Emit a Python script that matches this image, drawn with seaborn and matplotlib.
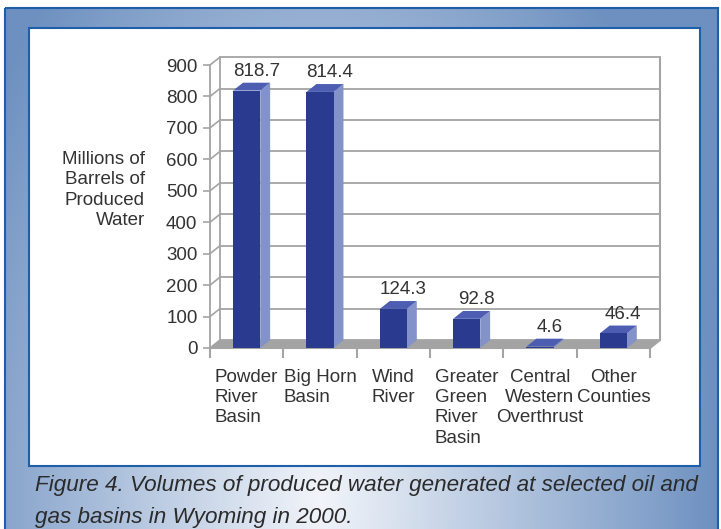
import numpy as np
import matplotlib
matplotlib.use("Agg")
import matplotlib.pyplot as plt
from matplotlib.patches import Polygon, Rectangle
import seaborn as sns

# data
basins = ["Powder\nRiver\nBasin", "Big Horn\nBasin", "Wind\nRiver",
          "Greater\nGreen\nRiver\nBasin", "Central\nWestern\nOverthrust",
          "Other\nCounties"]
volumes = [818.7, 814.4, 124.3, 92.8, 4.6, 46.4]
y_ticks = [0, 100, 200, 300, 400, 500, 600, 700, 800, 900]
y_label = "Millions of\nBarrels of\nProduced\nWater"
caption = ["Figure 4. Volumes of produced water generated at selected oil and",
           "gas basins in Wyoming in 2000."]
label_align = ["left", "left", "left", "left", "center", "center"]

FRONT = "#2a3b8f"
SIDE = "#8392c8"
TOP = "#4d5eb2"
GRID = "#a4a4a4"
TXT = "#333333"

sns.set_theme(style="white")
plt.rcParams["font.family"] = ["Liberation Sans", "DejaVu Sans"]

W, H = 721, 529
fig = plt.figure(figsize=(W / 100, H / 100), dpi=100)

# blue gradient frame + white panel
bg = fig.add_axes([0, 0, 1, 1], zorder=-2)
bg.set_xlim(0, W)
bg.set_ylim(H, 0)
bg.axis("off")
xx, yy = np.meshgrid(np.linspace(5, 718, 300), np.linspace(8, 529, 200))
t = np.clip(np.sqrt(((xx - 320) / 400) ** 2 + ((yy - 500) / 700) ** 2), 0, 1)
dark = np.array([0x6d, 0x90, 0xc0]) / 255
light = np.array([0xf2, 0xf5, 0xfa]) / 255
bg.imshow(light + (dark - light) * t[..., None], extent=(5, 718, 529, 8),
          aspect="auto", interpolation="bilinear")
bg.add_patch(Rectangle((5, 8), 713, 530, fill=False, ec="#1f5ea8", lw=1.5))
bg.add_patch(Rectangle((29, 28), 671, 438, fc="white", ec="#1f5ea8", lw=1.5))

ax = fig.add_axes([210 / W, 1 - 348 / H, 440 / W, 283 / H])
ax.patch.set_alpha(0)
sns.barplot(x=basins, y=volumes, color=FRONT, width=0.37, saturation=1,
            linewidth=0, edgecolor=FRONT, ax=ax, zorder=4)
ax.set_xlim(-0.5, 5.5)
ax.set_ylim(0, 900)
for s in ax.spines.values():
    s.set_visible(False)

# fake 3d depth, in data units
DX, DY = 0.135, 25

# back wall
for v in y_ticks:
    ax.plot([-0.5 + DX, 5.5 + DX], [v + DY, v + DY], color=GRID, lw=1.3,
            zorder=1, clip_on=False)
    ax.plot([-0.5, -0.5 + DX], [v, v + DY], color=GRID, lw=1.2, zorder=1,
            clip_on=False)
ax.plot([-0.5 + DX] * 2, [DY, 900 + DY], color=GRID, lw=1.3, zorder=1, clip_on=False)
ax.plot([5.5 + DX] * 2, [DY, 900 + DY], color=GRID, lw=1.5, zorder=1, clip_on=False)
# floor
ax.add_patch(Polygon([(-0.5, 0), (5.5, 0), (5.5 + DX, DY), (-0.5 + DX, DY)],
                     fc="#a3a3a3", ec="none", zorder=2, clip_on=False))
ax.plot([-0.5, -0.5], [0, 900], color=GRID, lw=1.3, zorder=2, clip_on=False)
ax.plot([-0.5, 5.5], [0, 0], color=GRID, lw=1.5, zorder=2, clip_on=False)
ax.plot([5.5, 5.5 + DX], [0, DY], color=GRID, lw=1.5, zorder=2, clip_on=False)

# bar sides, tops and value labels
for p in list(ax.patches)[:len(volumes)]:
    x0, w, h = p.get_x(), p.get_width(), p.get_height()
    x1 = x0 + w
    ax.add_patch(Polygon([(x1, 0), (x1 + DX, DY), (x1 + DX, h + DY), (x1, h)],
                         fc=SIDE, ec="none", zorder=3, clip_on=False))
    ax.add_patch(Polygon([(x0, h), (x1, h), (x1 + DX, h + DY), (x0 + DX, h + DY)],
                         fc=TOP, ec="none", zorder=3, clip_on=False))
    ax.annotate(f"{h:.1f}", (x0 + w / 2 + DX, h + DY), xytext=(0, 2),
                textcoords="offset points", ha="center", va="bottom",
                fontsize=13.5, color=TXT)

ax.set_yticks(y_ticks)
ax.tick_params(axis="y", left=True, length=5, width=1.2, color=GRID,
               labelsize=13.5, labelcolor=TXT, pad=4)
ax.set_xticks(np.arange(-0.5, 6, 1), minor=True)
ax.tick_params(axis="x", which="minor", bottom=True, length=7, width=1.5,
               color=GRID)
ax.tick_params(axis="x", which="major", length=0, labelsize=13.5,
               labelcolor=TXT, pad=15)
for lbl, al in zip(ax.get_xticklabels(), label_align):
    lbl.set_multialignment(al)
    lbl.set_linespacing(1.25)
ax.set_xlabel("")
ax.set_ylabel("")

fig.text(145 / W, 1 - 190 / H, y_label, ha="right", va="center",
         multialignment="right", fontsize=13.5, color=TXT, linespacing=1.25)

for i, line in enumerate(caption):
    fig.text(35 / W, 1 - (485 + 32 * i) / H, line, fontsize=16.2, style="italic",
             color="#2b2b2b", va="center")

fig.savefig("out.png", dpi=100)
